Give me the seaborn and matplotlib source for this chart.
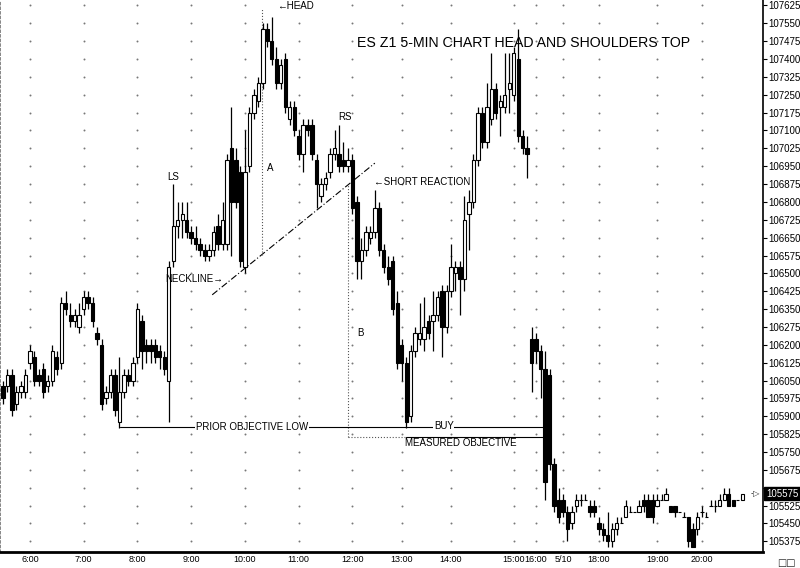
import numpy as np
import pandas as pd
import seaborn as sns
import matplotlib.pyplot as plt
import matplotlib.transforms as mtransforms

# 5-minute bars, ES Z1 (prices shown as on the scale, e.g. 107550 = 1075.50)
opens = [
    106025, 106025, 106075, 105950, 106000, 106000, 106125, 106150, 106075, 106100,
    106025, 106050, 106150, 106125, 106375, 106325, 106300, 106275, 106350, 106400,
    106375, 106250, 106200, 105975, 106000, 106075, 105875, 106000, 106075, 106050,
    106150, 106300, 106200, 106200, 106200, 106175, 106150, 106050, 106550, 106700,
    106725, 106725, 106675, 106650, 106625, 106600, 106575, 106600, 106700, 106625,
    106625, 107025, 106975, 106925, 106525, 106950, 107175, 107225, 107300, 107525,
    107475, 107400, 107300, 107400, 107150, 107200, 107075, 107000, 107125, 107125,
    106975, 106825, 106875, 106925, 107000, 107000, 106975, 106950, 106975, 106800,
    106550, 106600, 106650, 106675, 106775, 106600, 106525, 106550, 106375, 106200,
    106125, 105900, 106175, 106225, 106225, 106300, 106300, 106325, 106425, 106275,
    106425, 106500, 106525, 106475, 106750, 106800, 106975, 107175, 107050, 107150,
    107275, 107200, 107200, 107275, 107250, 107400, 107075, 107025, 106225, 106225,
    106175, 106100, 106075, 105700, 105550, 105550, 105500, 105450, 105525, 105550,
    105550, 105525, 105525, 105450, 105425, 105400, 105375, 105425, 105450, 105475,
    105500, 105500, 105500, 105550, 105550, 105550, 105525, 105550, 105550, 105525,
    105525, 105500, 105475, 105475, 105425, 105425, 105500, 105475, 105525, 105525,
    105525, 105550, 105575, 105550, 105550, 105550,
]
closes = [
    105975, 106075, 105925, 106000, 106025, 106075, 106175, 106050, 106050, 106000,
    106050, 106175, 106100, 106375, 106350, 106300, 106325, 106325, 106400, 106375,
    106300, 106225, 105950, 106000, 106075, 105925, 106000, 106075, 106050, 106125,
    106350, 106175, 106175, 106175, 106150, 106150, 106100, 106525, 106700, 106725,
    106750, 106675, 106650, 106625, 106600, 106575, 106600, 106675, 106625, 106725,
    106975, 106800, 106800, 106550, 106925, 107175, 107250, 107300, 107525, 107475,
    107400, 107300, 107375, 107200, 107200, 107100, 107000, 107125, 107100, 107000,
    106875, 106875, 106900, 107000, 107025, 106950, 106950, 106975, 106775, 106550,
    106600, 106675, 106675, 106775, 106600, 106525, 106475, 106350, 106125, 106125,
    105875, 106175, 106250, 106250, 106275, 106250, 106325, 106400, 106275, 106425,
    106525, 106525, 106475, 106725, 106800, 106975, 107175, 107050, 107200, 107275,
    107175, 107225, 107250, 107300, 107425, 107075, 107025, 107000, 106125, 106175,
    106100, 105625, 105700, 105525, 105475, 105500, 105425, 105500, 105550, 105550,
    105550, 105500, 105500, 105425, 105400, 105375, 105425, 105450, 105450, 105525,
    105500, 105500, 105525, 105525, 105475, 105475, 105550, 105550, 105575, 105500,
    105500, 105500, 105475, 105375, 105350, 105475, 105500, 105475, 105525, 105525,
    105550, 105575, 105525, 105525, 105550, 105575,
]
highs = [
    106050, 106100, 106100, 106025, 106050, 106100, 106200, 106175, 106100, 106125,
    106075, 106200, 106175, 106400, 106425, 106375, 106350, 106375, 106425, 106425,
    106400, 106275, 106225, 106025, 106100, 106100, 106150, 106100, 106100, 106150,
    106375, 106325, 106225, 106225, 106225, 106200, 106175, 106550, 106875, 106800,
    106800, 106800, 106700, 106700, 106650, 106625, 106625, 106700, 106750, 106800,
    107000, 107200, 107025, 106950, 107100, 107200, 107275, 107325, 107550, 107550,
    107575, 107450, 107400, 107425, 107225, 107225, 107100, 107150, 107150, 107150,
    107000, 106900, 106925, 107025, 107100, 107125, 107050, 107025, 107000, 106825,
    106650, 106700, 106700, 106850, 106800, 106625, 106575, 106575, 106425, 106225,
    106150, 106200, 106275, 106375, 106400, 106325, 106425, 106425, 106450, 106450,
    106625, 106550, 106550, 106825, 106850, 107000, 107200, 107200, 107300, 107425,
    107300, 107250, 107425, 107425, 107450, 107525, 107100, 107075, 106275, 106250,
    106200, 106175, 106100, 105725, 105600, 105575, 105525, 105525, 105575, 105575,
    105575, 105550, 105550, 105475, 105450, 105500, 105450, 105475, 105475, 105550,
    105525, 105500, 105550, 105575, 105575, 105575, 105575, 105575, 105600, 105525,
    105525, 105500, 105500, 105475, 105450, 105500, 105525, 105500, 105550, 105550,
    105575, 105600, 105600, 105550, 105550, 105575,
]
lows = [
    105950, 106000, 105900, 105925, 105975, 105975, 106100, 106025, 106025, 105975,
    106000, 106025, 106075, 106100, 106325, 106275, 106275, 106250, 106325, 106350,
    106275, 106200, 105925, 105950, 105975, 105900, 105850, 105975, 106025, 106025,
    106125, 106100, 106125, 106125, 106125, 106100, 106075, 105875, 106525, 106650,
    106650, 106650, 106625, 106600, 106575, 106550, 106550, 106575, 106600, 106600,
    106600, 106575, 106775, 106525, 106500, 106925, 107150, 107200, 107275, 107450,
    107375, 107275, 107275, 107175, 107125, 107075, 106975, 106925, 107075, 106975,
    106775, 106800, 106850, 106900, 106975, 106925, 106925, 106925, 106750, 106475,
    106475, 106575, 106625, 106650, 106575, 106500, 106450, 106325, 106100, 106050,
    105850, 105875, 106150, 106200, 106175, 106225, 106175, 106300, 106150, 106250,
    106400, 106425, 106325, 106425, 106600, 106775, 106950, 107025, 107025, 107125,
    107150, 107075, 107175, 107175, 107225, 107050, 107000, 106900, 106000, 106125,
    105975, 105550, 105675, 105500, 105450, 105475, 105375, 105425, 105500, 105525,
    105550, 105475, 105475, 105400, 105375, 105350, 105350, 105400, 105450, 105475,
    105500, 105500, 105500, 105500, 105475, 105450, 105525, 105550, 105550, 105500,
    105475, 105500, 105475, 105350, 105350, 105400, 105475, 105475, 105525, 105500,
    105525, 105550, 105525, 105525, 105550, 105550,
]

time_pos = [6, 18, 30, 42, 54, 66, 78, 89, 100, 114, 119, 125, 133, 146, 156]
time_labels = ["6:00", "7:00", "8:00", "9:00", "10:00", "11:00", "12:00", "13:00",
               "14:00", "15:00", "16:00", "5/10", "18:00", "19:00", "20:00"]
price_ticks = np.arange(105375, 107700, 75)

sns.set_theme(style="white")
plt.rcParams["font.family"] = ["Liberation Sans", "DejaVu Sans"]

df = pd.DataFrame({"open": opens, "high": highs, "low": lows, "close": closes})
df["bar"] = np.arange(len(df))
up = df["close"] >= df["open"]

fig = plt.figure(figsize=(8, 5.68), dpi=100)
ax = fig.add_axes([0, 16 / 568, 763 / 800, 552 / 568])

# dotted grid: only the crossings are marked
gx, gy = np.meshgrid(time_pos, price_ticks)
sns.scatterplot(x=gx.ravel(), y=gy.ravel(), s=2, color="#777777", linewidth=0, ax=ax, zorder=1)

# candles
ax.vlines(df["bar"], df["low"], df["high"], color="black", lw=0.9, zorder=2)
ax.bar(df["bar"][up], (df["close"] - df["open"])[up], bottom=df["open"][up], width=0.75,
       facecolor="white", edgecolor="black", lw=0.8, zorder=3)
ax.bar(df["bar"][~up], (df["close"] - df["open"])[~up], bottom=df["open"][~up], width=0.75,
       facecolor="black", edgecolor="black", lw=0.8, zorder=3)

# pattern lines
ax.plot([46.7, 83.0], [106410, 106963], color="black", lw=0.8, linestyle=(0, (6, 2, 1, 2)))
ax.plot([57.8, 57.8], [106577, 107614], color="#555555", lw=0.8, linestyle=":")
ax.plot([77.0, 77.0], [105813, 106871], color="#555555", lw=0.8, linestyle=":")
ax.plot([26.1, 122.1], [105855, 105855], color="black", lw=0.8)
ax.plot([77.0, 90.0], [105813, 105813], color="#555555", lw=0.8, linestyle=":")
ax.plot([90.0, 122.1], [105813, 105813], color="black", lw=0.8)

small = dict(fontsize=7, color="black", va="center")
ax.text(79.0, 107467, "ES Z1 5-MIN CHART HEAD AND SHOULDERS TOP", fontsize=10.2,
        va="center", ha="left", color="black")
ax.text(61.2, 107623, "\u2190HEAD", ha="left", **small)
ax.text(37.9, 106905, "LS", ha="center", **small)
ax.text(76.3, 107157, "RS", ha="center", **small)
ax.text(59.6, 106942, "A", ha="center", **small)
ax.text(79.7, 106249, "B", ha="center", **small)
ax.text(36.2, 106476, "NECKLINE\u2192", ha="left", **small)
ax.text(82.8, 106884, "\u2190SHORT REACTION", ha="left", **small)
ax.text(55.6, 105855, "PRIOR OBJECTIVE LOW", ha="center",
        bbox=dict(facecolor="white", edgecolor="none", pad=0.5), **small)
ax.text(98.4, 105859, "BUY", ha="center",
        bbox=dict(facecolor="white", edgecolor="none", pad=0.5), **small)
ax.text(89.7, 105787, "MEASURED OBJECTIVE", ha="left", **small)

# last price marker (the box sits where the 105600 label would be)
ax.text(166.8, closes[-1], "-\u25b7", fontsize=6, va="center", ha="left",
        family=["DejaVu Sans"])
trans = mtransforms.blended_transform_factory(ax.transAxes, ax.transData)
ax.text(1.004, closes[-1], str(closes[-1]), transform=trans, fontsize=7, color="white",
        va="center", ha="left", bbox=dict(facecolor="black", edgecolor="black", pad=1.2))
fig.text(0.972, 0.004, "\u25a1\u25a1", fontsize=7, family=["DejaVu Sans"])

ax.yaxis.tick_right()
ax.set_yticks(price_ticks)
ax.set_yticklabels(["" if p == 105600 else str(int(p)) for p in price_ticks])
ax.set_xticks(time_pos)
ax.set_xticklabels(time_labels)
ax.set_xlim(-0.67, 169.64)
ax.set_ylim(105330, 107648)
ax.tick_params(axis="y", length=3, width=0.8, pad=1, labelsize=7, colors="black", right=True)
ax.tick_params(axis="x", length=0, pad=2, labelsize=6.5, colors="black")
ax.grid(False)

ax.spines["top"].set_visible(False)
ax.spines["left"].set_linestyle(":")
ax.spines["left"].set_color("#777777")
ax.spines["bottom"].set_linewidth(2)
ax.spines["bottom"].set_color("black")
ax.spines["right"].set_linewidth(1.2)
ax.spines["right"].set_color("black")

fig.savefig("out.png", dpi=100)
